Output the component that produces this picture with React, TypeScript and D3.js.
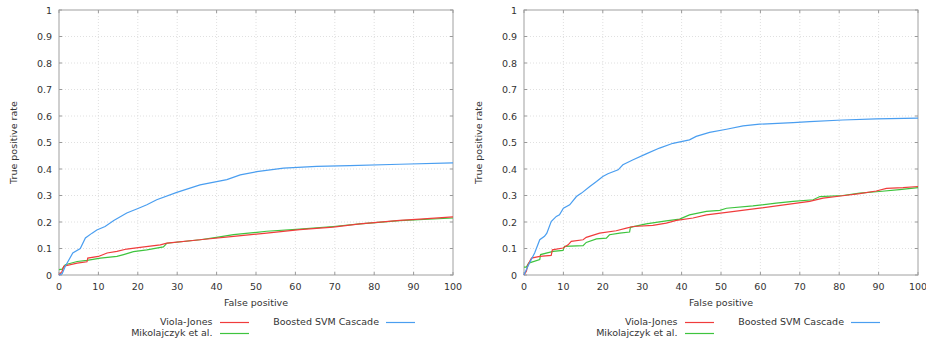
import * as d3 from "d3";

// x = false positives, y = true positive rate
const leftBoosted: [number, number][] = [
  [0, 0], [0.8, 0.005], [1.6, 0.033], [3.5, 0.083], [5.4, 0.1], [6.7, 0.14], [8.4, 0.158],
  [9.6, 0.17], [11.7, 0.183], [13.9, 0.206], [17.2, 0.234], [20.2, 0.252], [22.3, 0.265],
  [24.8, 0.284], [29.9, 0.312], [35.8, 0.34], [42.6, 0.36], [46, 0.378], [50.2, 0.39],
  [57, 0.403], [65.4, 0.41], [73.8, 0.413], [86.5, 0.418], [100, 0.423],
];
const leftViola: [number, number][] = [
  [0, 0], [0.8, 0.014], [1.2, 0.033], [4.6, 0.045], [7.1, 0.05], [7.3, 0.064], [10, 0.07],
  [12.2, 0.083], [14.7, 0.089], [17.2, 0.098], [20.6, 0.104], [25.7, 0.114], [27.4, 0.12],
  [35.8, 0.133], [44.3, 0.146], [52.7, 0.158], [61.1, 0.171], [69.6, 0.181], [76.4, 0.193],
  [86.5, 0.206], [91.6, 0.211], [100, 0.219],
];
const leftMiko: [number, number][] = [
  [0, 0.02], [0.8, 0.022], [1.6, 0.039], [4.6, 0.051], [7.1, 0.055], [10.5, 0.064],
  [14.7, 0.07], [16.4, 0.077], [18.9, 0.088], [22.3, 0.095], [26.5, 0.106], [27.4, 0.12],
  [35.8, 0.133], [40, 0.142], [44.3, 0.152], [50.2, 0.161], [52.7, 0.165], [61.1, 0.173],
  [69.6, 0.183], [76.4, 0.193], [86.5, 0.205], [100, 0.215],
];

const rightBoosted: [number, number][] = [
  [0, 0], [0.2, 0.008], [1.4, 0.045], [2.7, 0.083], [4, 0.133], [5.2, 0.146], [5.8, 0.158],
  [6.9, 0.202], [8.2, 0.221], [9, 0.227], [10, 0.252], [11.6, 0.265], [13.3, 0.296],
  [14.6, 0.309], [16.7, 0.334], [18.4, 0.353], [20, 0.372], [21.3, 0.382], [23.9, 0.397],
  [25.1, 0.416], [27.7, 0.435], [31, 0.457], [34.4, 0.479], [37.8, 0.497], [42, 0.51],
  [43.7, 0.523], [47.1, 0.538], [51.4, 0.55], [55.6, 0.563], [59.8, 0.569], [68.3, 0.575],
  [72.5, 0.579], [80.9, 0.585], [89.4, 0.589], [100, 0.592],
];
const rightViola: [number, number][] = [
  [0, 0], [0.6, 0.014], [1, 0.039], [1.9, 0.064], [4, 0.07], [6.9, 0.074], [7.2, 0.095],
  [9.9, 0.102], [11.2, 0.114], [12, 0.127], [15, 0.133], [15.8, 0.142], [19.2, 0.158],
  [23.4, 0.167], [26, 0.177], [27.7, 0.183], [32.7, 0.187], [36.1, 0.196], [38.7, 0.206],
  [42.9, 0.215], [46.3, 0.227], [51.4, 0.236], [59.8, 0.252], [68.3, 0.269], [72.5, 0.278],
  [75.9, 0.29], [80.9, 0.299], [85.2, 0.307], [89.4, 0.317], [92, 0.327], [96.2, 0.33],
  [100, 0.334],
];
const rightMiko: [number, number][] = [
  [0, 0.03], [0.6, 0.03], [1.2, 0.045], [4, 0.058], [4.2, 0.077], [7.4, 0.089], [9.9, 0.093],
  [10.3, 0.108], [15, 0.111], [15.8, 0.123], [18.4, 0.136], [20.9, 0.139], [21.7, 0.152],
  [24.3, 0.158], [26.8, 0.162], [27, 0.18], [31, 0.193], [36.1, 0.204], [39.5, 0.211],
  [42, 0.227], [46.3, 0.24], [49.7, 0.244], [51.4, 0.252], [58.1, 0.261], [64, 0.271],
  [68.3, 0.278], [73.4, 0.284], [75.1, 0.296], [80.9, 0.3], [85.2, 0.309], [90.2, 0.315],
  [95.3, 0.322], [100, 0.33],
];

const xTicks = [0, 10, 20, 30, 40, 50, 60, 70, 80, 90, 100];
const yTicks = [0, 0.1, 0.2, 0.3, 0.4, 0.5, 0.6, 0.7, 0.8, 0.9, 1];

const RED = "#f03c3c";
const GREEN = "#3ec43e";
const BLUE = "#4a9ef0";
const FONT = "DejaVu Sans, sans-serif";
const TXT = "#333";

function Panel({ left, viola, miko, boosted }: {
  left: number;
  viola: [number, number][];
  miko: [number, number][];
  boosted: [number, number][];
}) {
  const top = 10, w = 394, h = 265;
  const x = d3.scaleLinear().domain([0, 100]).range([left, left + w]);
  const y = d3.scaleLinear().domain([0, 1]).range([top + h, top]);
  const line = d3.line<[number, number]>().x(d => x(d[0])).y(d => y(d[1]));

  return (
    <g fontFamily={FONT} fill={TXT}>
      {/* grid */}
      {xTicks.slice(1, -1).map(t => (
        <line key={"gx" + t} x1={x(t)} x2={x(t)} y1={top} y2={top + h}
          stroke="#d8d8d8" strokeWidth={0.8} strokeDasharray="1,2" />
      ))}
      {yTicks.slice(1, -1).map(t => (
        <line key={"gy" + t} x1={left} x2={left + w} y1={y(t)} y2={y(t)}
          stroke="#d8d8d8" strokeWidth={0.8} strokeDasharray="1,2" />
      ))}
      {/* tick marks */}
      {xTicks.map(t => (
        <g key={"tx" + t}>
          <line x1={x(t)} x2={x(t)} y1={top + h} y2={top + h - 3} stroke="#999" />
          <line x1={x(t)} x2={x(t)} y1={top} y2={top + 3} stroke="#999" />
        </g>
      ))}
      {yTicks.map(t => (
        <g key={"ty" + t}>
          <line x1={left} x2={left + 3} y1={y(t)} y2={y(t)} stroke="#999" />
          <line x1={left + w} x2={left + w - 3} y1={y(t)} y2={y(t)} stroke="#999" />
        </g>
      ))}
      <rect x={left} y={top} width={w} height={h} fill="none" stroke="#a0a0a0" strokeWidth={1} />

      {/* tick labels */}
      {yTicks.map(t => (
        <text key={"ly" + t} x={left - 7} y={y(t) + 3.5} textAnchor="end" fontSize={9.5}>
          {String(t)}
        </text>
      ))}
      {xTicks.map(t => (
        <text key={"lx" + t} x={x(t)} y={top + h + 15} textAnchor="middle" fontSize={9.5}>
          {String(t)}
        </text>
      ))}

      <text x={left + w / 2} y={306} textAnchor="middle" fontSize={9.5}>False positive</text>
      <text transform={`translate(${left - 42},${top + h / 2}) rotate(-90)`} textAnchor="middle" fontSize={9.5}>
        True positive rate
      </text>

      {/* curves */}
      <path d={line(miko) ?? ""} fill="none" stroke={GREEN} strokeWidth={1.2} />
      <path d={line(viola) ?? ""} fill="none" stroke={RED} strokeWidth={1.2} />
      <path d={line(boosted) ?? ""} fill="none" stroke={BLUE} strokeWidth={1.2} />

      {/* legend */}
      <text x={left + 153.5} y={325} textAnchor="end" fontSize={9.5}>Viola-Jones</text>
      <line x1={left + 161} x2={left + 190} y1={322.5} y2={322.5} stroke={RED} strokeWidth={1.2} />
      <text x={left + 153.5} y={336} textAnchor="end" fontSize={9.5}>Mikolajczyk et al.</text>
      <line x1={left + 161} x2={left + 190} y1={333.5} y2={333.5} stroke={GREEN} strokeWidth={1.2} />
      <text x={left + 320} y={325} textAnchor="end" fontSize={9.5}>Boosted SVM Cascade</text>
      <line x1={left + 327} x2={left + 356} y1={322.5} y2={322.5} stroke={BLUE} strokeWidth={1.2} />
    </g>
  );
}

export default function App() {
  return (
    <svg width={926} height={341} style={{ position: "absolute", left: 0, top: 0, background: "#fff" }}>
      <rect width={926} height={341} fill="#fff" />
      <Panel left={59} viola={leftViola} miko={leftMiko} boosted={leftBoosted} />
      <Panel left={524} viola={rightViola} miko={rightMiko} boosted={rightBoosted} />
    </svg>
  );
}
